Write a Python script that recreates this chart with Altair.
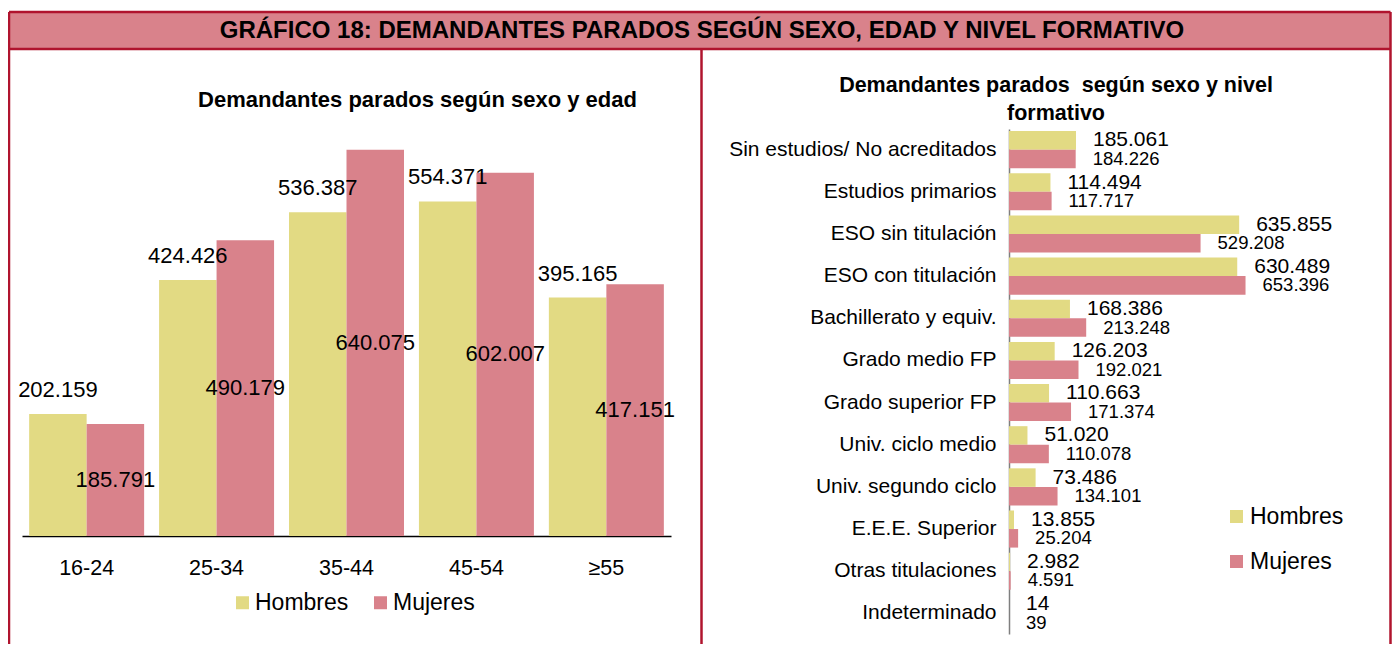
import altair as alt
import pandas as pd

# ---------------- data ----------------
ages = ["16-24", "25-34", "35-44", "45-54", "≥55"]
hombres_edad = [202159, 424426, 536387, 554371, 395165]
mujeres_edad = [185791, 490179, 640075, 602007, 417151]

niveles = [
    "Sin estudios/ No acreditados",
    "Estudios primarios",
    "ESO sin titulación",
    "ESO con titulación\u00a0",
    "Bachillerato y equiv.",
    "Grado medio FP",
    "Grado superior FP",
    "Univ. ciclo medio",
    "Univ. segundo ciclo",
    "E.E.E. Superior",
    "Otras titulaciones",
    "Indeterminado",
]
hombres_nivel = [185061, 114494, 635855, 630489, 168386, 126203, 110663, 51020, 73486, 13855, 2982, 14]
mujeres_nivel = [184226, 117717, 529208, 653396, 213248, 192021, 171374, 110078, 134101, 25204, 4591, 39]

sexos = ["Hombres", "Mujeres"]

titulo = "GRÁFICO 18: DEMANDANTES PARADOS SEGÚN SEXO, EDAD Y NIVEL FORMATIVO"
sub_izq = "Demandantes parados según sexo y edad"
sub_der = ["Demandantes parados\u00a0 según sexo y nivel", "formativo"]

# ---------------- style ----------------
COLORES = ["#E2DA83", "#D9828B"]
PINK = "#D9828B"
BORDER = "#B0142E"
FONT = "Liberation Sans, Arial, Helvetica, sans-serif"
W, H = 1384, 636


def fmt(v):
    return f"{v:,}".replace(",", ".")


df_edad = pd.DataFrame(
    [{"edad": a, "sexo": "Hombres", "valor": v, "etiqueta": fmt(v)} for a, v in zip(ages, hombres_edad)]
    + [{"edad": a, "sexo": "Mujeres", "valor": v, "etiqueta": fmt(v)} for a, v in zip(ages, mujeres_edad)]
)
df_nivel = pd.DataFrame(
    [{"nivel": n, "sexo": "Hombres", "valor": v, "etiqueta": fmt(v)} for n, v in zip(niveles, hombres_nivel)]
    + [{"nivel": n, "sexo": "Mujeres", "valor": v, "etiqueta": fmt(v)} for n, v in zip(niveles, mujeres_nivel)]
)

# ---------------- left chart (edad) ----------------
x_edad = alt.X(
    "edad:N",
    sort=ages,
    scale=alt.Scale(domain=ages, range=[14, 663], paddingInner=0.115, paddingOuter=0.055),
    axis=alt.Axis(
        title=None, orient="bottom", offset=-(H - 528), domainColor="black", domainWidth=1.5,
        ticks=False, labelFontSize=21.5, labelPadding=21, labelColor="black", labelFont=FONT,
        labelAngle=0, grid=False,
    ),
)
y_scale_edad = alt.Scale(domain=[0, 700000], range=[528, 105.6])
xo_edad = alt.XOffset("sexo:N", sort=sexos, scale=alt.Scale(domain=sexos, paddingInner=0, paddingOuter=0))

base_l = alt.Chart(df_edad)
bars_l = base_l.mark_bar().encode(
    x=x_edad,
    xOffset=xo_edad,
    y=alt.Y("valor:Q", scale=y_scale_edad, axis=None),
    color=alt.Color(
        "sexo:N",
        scale=alt.Scale(domain=sexos, range=COLORES),
        legend=alt.Legend(
            orient="none", legendX=223, legendY=583, direction="horizontal", title=None,
            symbolType="square", symbolSize=169, symbolStrokeWidth=0, labelFontSize=23,
            labelFont=FONT, labelColor="black", labelOffset=1, columnPadding=20, padding=0,
        ),
    ),
)
text_lh = base_l.transform_filter(alt.datum.sexo == "Hombres").mark_text(
    dy=-24, fontSize=22, font=FONT, color="black", baseline="middle", align="center"
).encode(x=x_edad, xOffset=xo_edad, y=alt.Y("valor:Q", scale=y_scale_edad, axis=None), text="etiqueta:N")
text_lm = base_l.transform_filter(alt.datum.sexo == "Mujeres").transform_calculate(
    mitad="datum.valor / 2"
).mark_text(fontSize=22, font=FONT, color="black", baseline="middle", align="center").encode(
    x=x_edad, xOffset=xo_edad, y=alt.Y("mitad:Q", scale=y_scale_edad, axis=None), text="etiqueta:N"
)
left = alt.layer(bars_l, text_lh, text_lm)

# ---------------- right chart (nivel) ----------------
y_nivel = alt.Y(
    "nivel:N",
    sort=niveles,
    scale=alt.Scale(domain=niveles, range=[121, 626], paddingInner=0.12, paddingOuter=0.05),
    axis=alt.Axis(
        title=None, orient="left", offset=-1001, domainColor="#7F7F7F", domainWidth=1.5,
        ticks=False, labelFontSize=21, labelPadding=13, labelLimit=500, labelColor="black",
        labelFont=FONT, grid=False,
    ),
)
x_scale_nivel = alt.Scale(domain=[0, 700000], range=[1001, 1254.4])
yo_nivel = alt.YOffset("sexo:N", sort=sexos, scale=alt.Scale(domain=sexos, paddingInner=0, paddingOuter=0))

base_r = alt.Chart(df_nivel)
bars_r = base_r.mark_bar().encode(
    y=y_nivel,
    yOffset=yo_nivel,
    x=alt.X("valor:Q", scale=x_scale_nivel, axis=None),
    color=alt.Color(
        "sexo:N",
        scale=alt.Scale(domain=sexos, range=COLORES),
        legend=alt.Legend(
            orient="none", legendX=1217, legendY=497, direction="vertical", title=None,
            symbolType="square", symbolSize=169, symbolStrokeWidth=0, labelFontSize=23,
            labelFont=FONT, labelColor="black", labelOffset=2, rowPadding=21, padding=0,
        ),
    ),
)
text_r = base_r.mark_text(dx=17, font=FONT, color="black", baseline="middle", align="left").encode(
    y=y_nivel,
    yOffset=yo_nivel,
    x=alt.X("valor:Q", scale=x_scale_nivel, axis=None),
    text="etiqueta:N",
    size=alt.Size("sexo:N", scale=alt.Scale(domain=sexos, range=[21, 18.5]), legend=None),
)
right = alt.layer(bars_r, text_r)

# ---------------- frame, header and titles ----------------
blank = alt.Data(values=[{}])
XR = W - 1.5
header_rect = alt.Chart(blank).mark_rect(color=PINK).encode(
    x=alt.value(1), x2=alt.value(XR), y=alt.value(4), y2=alt.value(41)
)


def rule(x1, x2, y1, y2):
    return alt.Chart(blank).mark_rule(color=BORDER, strokeWidth=2.5).encode(
        x=alt.value(x1), x2=alt.value(x2), y=alt.value(y1), y2=alt.value(y2)
    )


frame = [
    rule(1, XR, 4, 4),
    rule(1, XR, 41, 41),
    rule(1, 1, 4, H),
    rule(XR, XR, 4, H),
    rule(693.5, 693.5, 41, H),
]

t_header = alt.Chart(blank).mark_text(
    text=titulo, font=FONT, fontSize=24, fontWeight="bold", color="black", align="center", baseline="middle"
).encode(x=alt.value(694), y=alt.value(23))
t_left = alt.Chart(blank).mark_text(
    text=sub_izq, font=FONT, fontSize=22, fontWeight="bold", color="black", align="center", baseline="middle"
).encode(x=alt.value(409.5), y=alt.value(92))
t_right = alt.Chart(blank).mark_text(
    text=sub_der, font=FONT, fontSize=21.5, fontWeight="bold", color="black", align="center",
    baseline="middle", lineHeight=28,
).encode(x=alt.value(1048), y=alt.value(78))

chart = (
    alt.layer(header_rect, *frame, t_header, t_left, t_right, left, right)
    .resolve_scale(x="independent", y="independent", color="independent")
    .properties(width=W, height=H, autosize=alt.AutoSizeParams(type="none"), padding=0)
    .configure_view(stroke=None)
)

chart.save("out.html", embed_options={"renderer": "svg", "actions": False})
